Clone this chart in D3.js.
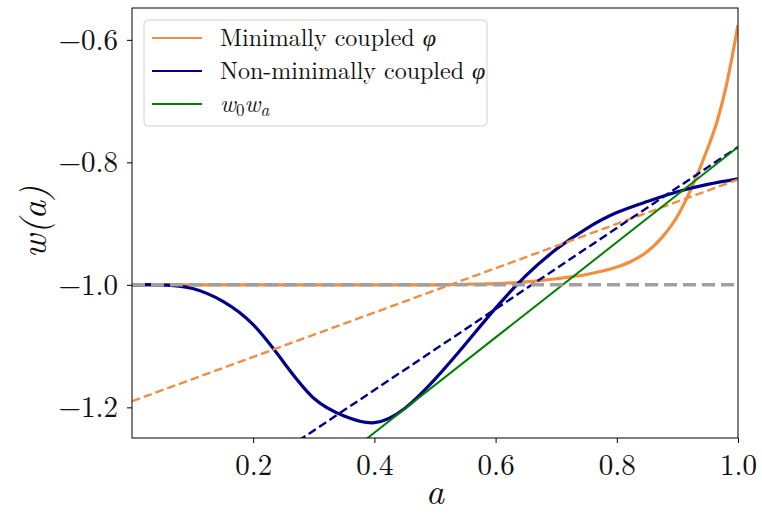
<!DOCTYPE html>
<meta charset="utf-8">
<style>
    body { margin: 0; background: #fff; }
    svg text { font-family: "CMU Serif", "Latin Modern Roman", "Liberation Serif", "Times New Roman", "Noto Serif", "DejaVu Serif", serif; }
    .tick text { font-size: 29px; fill: #111; }
    .axis-label { font-style: italic; font-size: 36px; fill: #111; }
    .legend text { font-size: 24px; fill: #111; }
</style>
<svg width="762" height="515"></svg>
<script src="https://d3js.org/d3.v7.min.js"></script>
<script>
    // values
    const xTicks = [0.2, 0.4, 0.6, 0.8, 1.0];
    const yTicks = [-1.2, -1.0, -0.8, -0.6];

    const minimal = [
        [0.0, -1.0], [0.1, -1.0], [0.2, -1.0], [0.3, -1.0], [0.4, -1.0], [0.5, -1.0],
        [0.55, -0.999], [0.6, -0.998], [0.65, -0.995], [0.7, -0.99], [0.75, -0.983],
        [0.8, -0.971], [0.825, -0.961], [0.85, -0.946], [0.875, -0.922], [0.9, -0.888],
        [0.925, -0.838], [0.95, -0.777], [0.965, -0.735], [0.98, -0.678], [1.0, -0.576]
    ];
    const nonMinimal = [
        [0.0, -1.0], [0.05, -1.0], [0.1, -1.006], [0.15, -1.027], [0.2, -1.065],
        [0.25, -1.126], [0.3, -1.185], [0.35, -1.214], [0.4, -1.225], [0.45, -1.202],
        [0.5, -1.154], [0.55, -1.097], [0.6, -1.038], [0.65, -0.985], [0.7, -0.942],
        [0.75, -0.908], [0.8, -0.882], [0.85, -0.864], [0.9, -0.848], [0.95, -0.836],
        [1.0, -0.827]
    ];
    const minimalFit = [[0.0, -1.19], [1.0, -0.828]];
    const nonMinimalFit = [[0.0, -1.436], [1.0, -0.775]];
    const w0wa = [[0.3, -1.319], [1.0, -0.775]];
    const lcdm = [[0.0, -1.0], [1.0, -1.0]];

    const legendLabels = ["Minimally coupled ", "Non-minimally coupled ", "w0wa"];
    const colors = { orange: "#f28e3e", navy: "#00008b", green: "#008000", gray: "#a0a0a0" };

    const svg = d3.select("svg"),
        margin = { top: 8, right: 24, bottom: 77, left: 132 },
        width = +svg.attr("width") - margin.left - margin.right,
        height = +svg.attr("height") - margin.top - margin.bottom;

    const g = svg.append("g").attr("transform", `translate(${margin.left},${margin.top})`);

    const x = d3.scaleLinear().domain([0, 1]).range([0, width]);
    const y = d3.scaleLinear().domain([-1.25, -0.548]).range([height, 0]);

    svg.append("defs").append("clipPath").attr("id", "clip")
        .append("rect").attr("width", width).attr("height", height);

    const line = d3.line().x(d => x(d[0])).y(d => y(d[1]));
    const monotone = d3.line().x(d => x(d[0])).y(d => y(d[1])).curve(d3.curveMonotoneX);
    const natural = d3.line().x(d => x(d[0])).y(d => y(d[1])).curve(d3.curveNatural);

    const plot = g.append("g").attr("clip-path", "url(#clip)");

    function draw(data, gen, color, w, dash) {
        plot.append("path")
            .datum(data)
            .attr("d", gen)
            .attr("fill", "none")
            .attr("stroke", color)
            .attr("stroke-width", w)
            .attr("stroke-dasharray", dash || null);
    }

    draw(minimal, monotone, colors.orange, 3.2, null);
    draw(nonMinimal, natural, colors.navy, 3.2, null);
    draw(minimalFit, line, colors.orange, 2.4, "8.5,4");
    draw(nonMinimalFit, line, colors.navy, 2.4, "8.5,4");
    draw(w0wa, line, colors.green, 2, null);
    draw(lcdm, line, colors.gray, 3.5, "13,6");

    // Axes
    const xAxis = g.append("g")
        .attr("transform", `translate(0,${height})`)
        .call(d3.axisBottom(x).tickValues(xTicks).tickFormat(d3.format(".1f")).tickSize(5).tickPadding(11));
    const yAxis = g.append("g")
        .call(d3.axisLeft(y).tickValues(yTicks).tickFormat(d3.format(".1f")).tickSize(5).tickPadding(9));
    [xAxis, yAxis].forEach(a => {
        a.attr("font-family", null).attr("font-size", null);
        a.select(".domain").remove();
        a.selectAll(".tick line").attr("stroke", "#000");
    });

    // Frame
    g.append("rect")
        .attr("width", width).attr("height", height)
        .attr("fill", "none").attr("stroke", "#000").attr("stroke-width", 1);

    // Axis labels
    svg.append("text")
        .attr("class", "axis-label")
        .attr("x", margin.left + width / 2)
        .attr("y", 504)
        .attr("text-anchor", "middle")
        .text("a");

    svg.append("text")
        .attr("class", "axis-label")
        .attr("transform", "translate(46,222) rotate(-90)")
        .attr("text-anchor", "middle")
        .text("w(a)");

    // Legend
    const legend = svg.append("g").attr("class", "legend");
    legend.append("rect")
        .attr("x", 144).attr("y", 20).attr("width", 343).attr("height", 106)
        .attr("rx", 4)
        .attr("fill", "#fff").attr("fill-opacity", 0.8)
        .attr("stroke", "#d0d0d0");

    const legendColors = [colors.orange, colors.navy, colors.green];
    legendLabels.forEach((lab, i) => {
        const ly = 38 + i * 33;
        legend.append("line")
            .attr("x1", 152).attr("x2", 202)
            .attr("y1", ly).attr("y2", ly)
            .attr("stroke", legendColors[i]).attr("stroke-width", 2);
        const t = legend.append("text").attr("x", 220).attr("y", ly + 8);
        if (lab === "w0wa") {
            t.style("font-style", "italic");
            t.append("tspan").text("w");
            t.append("tspan").attr("font-size", "17px").attr("dy", 4).style("font-style", "normal").text("0");
            t.append("tspan").attr("dy", -4).text("w");
            t.append("tspan").attr("font-size", "17px").attr("dy", 4).text("a");
        } else {
            t.append("tspan").text(lab);
            t.append("tspan").style("font-style", "italic").text("φ");
        }
    });
</script>
